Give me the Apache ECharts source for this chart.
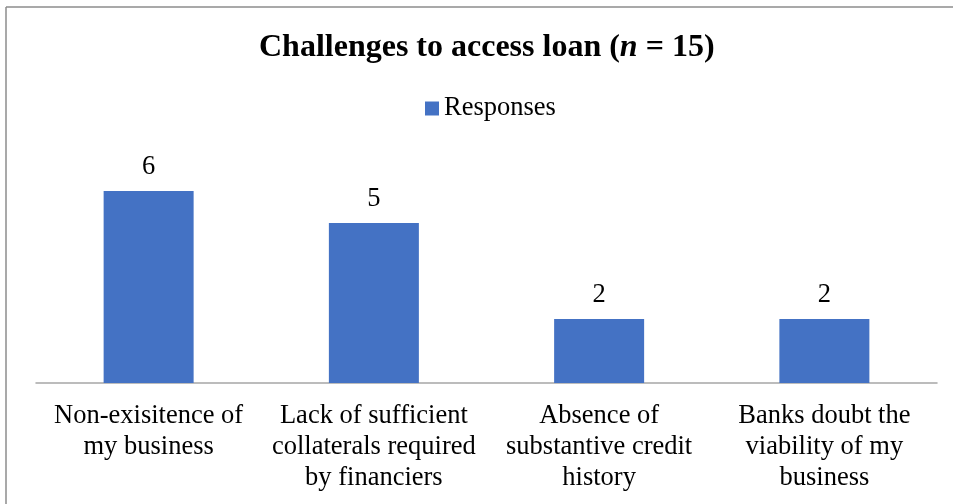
<!DOCTYPE html>
<html>
<head>
<meta charset="utf-8">
<script src="https://cdn.jsdelivr.net/npm/echarts@6/dist/echarts.min.js"></script>
<style>
  html, body { margin: 0; padding: 0; background: #fff; overflow: hidden; }
  #chart { width: 953px; height: 504px; }
</style>
</head>
<body>
<div id="chart"></div>
<script>
// Survey: challenges faced when trying to access a loan (n = 15)
const categories = [
  'Non-exisitence of\nmy business',
  'Lack of sufficient\ncollaterals required\nby financiers',
  'Absence of\nsubstantive credit\nhistory',
  'Banks doubt the\nviability of my\nbusiness'
];
const responses = [6, 5, 2, 2];
const seriesName = 'Responses';

const serif = '"Times New Roman", "Liberation Serif", serif';
const frameColor = '#8c8c8c';

const chart = echarts.init(document.getElementById('chart'), null, { renderer: 'canvas' });
chart.setOption({
  backgroundColor: '#fff',
  animation: false,
  graphic: [
    { type: 'line', shape: { x1: 6, y1: 7, x2: 960, y2: 7 }, style: { stroke: frameColor, lineWidth: 1.5 }, silent: true },
    { type: 'line', shape: { x1: 6, y1: 7, x2: 6, y2: 510 }, style: { stroke: frameColor, lineWidth: 1.5 }, silent: true }
  ],
  title: {
    left: 259,
    top: 32,
    padding: 0,
    text: '{b|Challenges to access loan (}{i|n}{b| = 15)}',
    textStyle: {
      rich: {
        b: { fontFamily: serif, fontWeight: 'bold', fontSize: 32, color: '#000' },
        i: { fontFamily: serif, fontWeight: 'bold', fontStyle: 'italic', fontSize: 32, color: '#000' }
      }
    }
  },
  legend: {
    left: 425,
    top: 95,
    padding: 0,
    icon: 'rect',
    itemWidth: 14,
    itemHeight: 14,
    textStyle: { fontFamily: serif, fontSize: 26.5, color: '#000' },
    data: [seriesName]
  },
  grid: { left: 36, right: 16, top: 191, bottom: 121, containLabel: false },
  xAxis: {
    type: 'category',
    data: categories,
    axisLine: { lineStyle: { color: '#a6a6a6', width: 1.5 } },
    axisTick: { show: false },
    axisLabel: {
      interval: 0,
      margin: 18,
      fontFamily: serif,
      fontSize: 26.5,
      lineHeight: 31,
      color: '#000'
    }
  },
  yAxis: {
    type: 'value',
    min: 0,
    max: 6,
    show: false,
    splitLine: { show: false }
  },
  series: [{
    name: seriesName,
    type: 'bar',
    data: responses,
    barWidth: 90,
    itemStyle: { color: '#4472c4' },
    label: {
      show: true,
      position: 'top',
      distance: 10,
      fontFamily: serif,
      fontSize: 26.5,
      color: '#000'
    }
  }]
});
</script>
</body>
</html>
